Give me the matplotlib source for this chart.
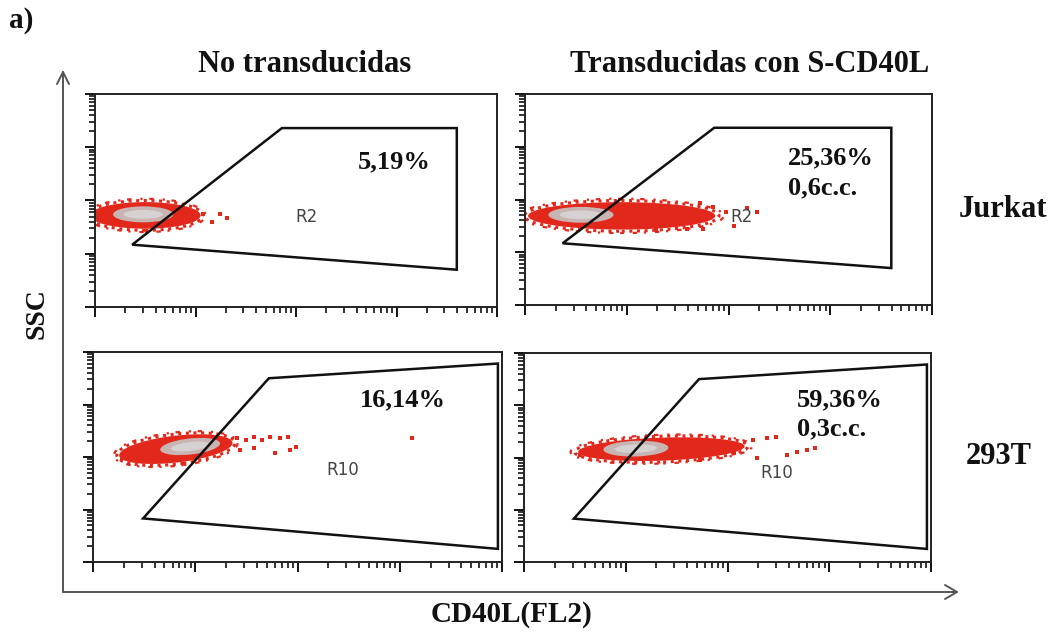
import numpy as np
import matplotlib
matplotlib.use("Agg")
import matplotlib.pyplot as plt
from matplotlib.patches import Ellipse, Polygon

# ---------------- data ----------------
cell_lines = ["Jurkat", "293T"]
conditions = ["No transducidas", "Transducidas con S-CD40L"]
pct_in_gate = [[5.19, 25.36], [16.14, 59.36]]          # % events in gate
volume_cc = [[None, 0.6], [None, 0.3]]                  # vector volume (c.c.)
gate_names = ["R2", "R10"]

# gate polygons per cell line (log10 units, FL2 / SSC)
gate_fl2 = [[0.37, 1.86, 3.60, 3.60], [0.49, 1.72, 3.96, 3.96]]
gate_ssc = [[1.17, 3.36, 3.36, 0.70], [0.83, 3.50, 3.78, 0.25]]

# main population: centre / half-widths (log10 units) and tilt (deg)
pop_fl2 = [[0.50, 0.95], [0.81, 1.35]]
pop_ssc = [[1.72, 1.69], [2.15, 2.16]]
pop_hw = [[0.55, 0.92], [0.57, 0.82]]
pop_hh = [[0.25, 0.26], [0.25, 0.22]]
pop_tilt = [[0.0, 0.0], [15.0, 4.0]]
# dense core of the population
core_fl2 = [[0.48, 0.55], [0.95, 1.10]]
core_ssc = [[1.74, 1.71], [2.20, 2.17]]
core_hw = [[0.30, 0.32], [0.30, 0.32]]
core_hh = [[0.15, 0.15], [0.15, 0.15]]

# sparse events outside the main population
sparse_fl2 = [
    [[1.07, 1.16, 1.24, 1.31],
     [1.72, 1.85, 1.98, 2.05, 2.18, 2.28, 1.59, 1.29, 1.75]],
    [[1.41, 1.50, 1.57, 1.65, 1.73, 1.83, 1.91, 1.99, 1.93, 1.78, 1.57, 1.44,
      0.28, 0.36, 0.46, 3.12],
     [2.25, 2.39, 2.48, 2.58, 2.68, 2.78, 2.86, 0.55, 0.62, 2.29, 1.73, 2.06]],
]
sparse_ssc = [
    [[1.74, 1.60, 1.74, 1.68],
     [1.93, 1.86, 1.77, 1.49, 1.83, 1.77, 1.45, 1.45, 1.45]],
    [[2.36, 2.32, 2.39, 2.32, 2.38, 2.36, 2.39, 2.20, 2.13, 2.07, 2.17, 2.13,
      1.98, 2.04, 2.13, 2.36],
     [2.34, 2.37, 2.40, 2.05, 2.11, 2.14, 2.18, 2.05, 2.14, 1.99, 1.95, 2.08]],
]

# ---------------- layout ----------------
W, H = 1056, 637
fig = plt.figure(figsize=(W / 100, H / 100), dpi=100)

def fx(x):
    return x / W

def fy(y):
    return 1 - y / H

# panel boxes in pixels: (left, top, right, bottom)
boxes = [[(95, 94, 497, 307), (525, 94, 932, 305)],
         [(93, 352, 502, 562), (524, 353, 931, 562)]]
# stat label anchor (axes fraction)
stat_pos = [[(0.654, 0.68), (0.646, 0.697)], [(0.653, 0.771), (0.671, 0.775)]]
gate_label_pos = [[(0.527, 0.423), (0.533, 0.417)], [(0.611, 0.438), (0.622, 0.426)]]

SERIF = ["Liberation Serif", "DejaVu Serif"]
RED = "#e2281b"
decades = np.arange(0, 5)
minor = np.log10(np.array([k * 10.0 ** d for d in range(4) for k in range(2, 10)]))

# background axes for the big axis arrows
bg = fig.add_axes([0, 0, 1, 1])
bg.set_xlim(0, W)
bg.set_ylim(H, 0)
bg.axis("off")
arrow_kw = dict(color="#555555", lw=1.4, solid_capstyle="round")
bg.plot([63, 63], [592, 72], **arrow_kw)
bg.plot([57, 63, 69], [84, 72, 84], **arrow_kw)
bg.plot([63, 957], [592, 592], **arrow_kw)
bg.plot([945, 957, 945], [585, 592, 599], **arrow_kw)

for r in range(2):
    for c in range(2):
        l, t, rr, b = boxes[r][c]
        ax = fig.add_axes([fx(l), fy(b), fx(rr - l), (b - t) / H])
        ax.set_xlim(0, 4)
        ax.set_ylim(0, 4)
        ax.set_xticks(decades)
        ax.set_yticks(decades)
        ax.set_xticks(minor, minor=True)
        ax.set_yticks(minor, minor=True)
        ax.set_xticklabels([])
        ax.set_yticklabels([])
        ax.tick_params(which="major", direction="out", length=7, width=1.4,
                       color="#111111")
        ax.tick_params(which="minor", direction="out", length=4, width=1.2,
                       color="#111111")
        for s in ax.spines.values():
            s.set_linewidth(1.4)
            s.set_color("#222222")

        # population cloud
        centre = (pop_fl2[r][c], pop_ssc[r][c])
        body = Ellipse(centre, 2 * pop_hw[r][c], 2 * pop_hh[r][c],
                       angle=pop_tilt[r][c], facecolor=RED, edgecolor="none",
                       zorder=2)
        ax.add_patch(body)
        rim = Ellipse(centre, 2 * pop_hw[r][c] * 1.04, 2 * pop_hh[r][c] * 1.12,
                      angle=pop_tilt[r][c], facecolor="none", edgecolor=RED,
                      lw=2.2, linestyle=(0, (1, 1.5)), zorder=2)
        ax.add_patch(rim)
        rim2 = Ellipse(centre, 2 * pop_hw[r][c] * 1.09, 2 * pop_hh[r][c] * 1.25,
                       angle=pop_tilt[r][c], facecolor="none", edgecolor=RED,
                       lw=1.6, linestyle=(0, (1, 4, 2, 3)), zorder=2)
        ax.add_patch(rim2)
        core_c = (core_fl2[r][c], core_ssc[r][c])
        core = Ellipse(core_c, 2 * core_hw[r][c], 2 * core_hh[r][c],
                       angle=pop_tilt[r][c], facecolor="#c8b4b2",
                       edgecolor="none", zorder=3)
        ax.add_patch(core)
        inner = Ellipse(core_c, 1.3 * core_hw[r][c], 1.1 * core_hh[r][c],
                        angle=pop_tilt[r][c], facecolor="#d6d2d2",
                        edgecolor="none", zorder=3)
        ax.add_patch(inner)
        ax.scatter(sparse_fl2[r][c], sparse_ssc[r][c], s=5, marker="s",
                   color=RED, linewidths=0, zorder=2)

        # gate
        gate = Polygon(np.column_stack([gate_fl2[r], gate_ssc[r]]), closed=True,
                       facecolor="none", edgecolor="#111111", lw=1.8,
                       joinstyle="miter", zorder=4)
        ax.add_patch(gate)
        gx, gy = gate_label_pos[r][c]
        ax.text(gx, gy, gate_names[r], transform=ax.transAxes, ha="center",
                va="center", fontsize=12, color="#444444",
                family=["DejaVu Sans"], zorder=5)

        # statistics
        sx, sy = stat_pos[r][c]
        ax.text(sx, sy, f"{pct_in_gate[r][c]:.2f}%".replace(".", ","),
                transform=ax.transAxes, ha="left", va="center", fontsize=19,
                fontweight="bold", family=SERIF, color="#111111", zorder=5)
        if volume_cc[r][c] is not None:
            ax.text(sx, sy - 0.14, f"{volume_cc[r][c]:.1f}c.c.".replace(".", ",", 1),
                    transform=ax.transAxes, ha="left", va="center", fontsize=19,
                    fontweight="bold", family=SERIF, color="#111111", zorder=5)

# column titles, row labels, axis names
title_x = [305, 750]
for c, name in enumerate(conditions):
    fig.text(fx(title_x[c]), fy(65), name, ha="center", va="center",
             fontsize=22, fontweight="bold", family=SERIF, color="#111111")
row_x = [1003, 999]
row_y = [210, 456]
for r, name in enumerate(cell_lines):
    fig.text(fx(row_x[r]), fy(row_y[r]), name, ha="center", va="center",
             fontsize=22, fontweight="bold", family=SERIF, color="#111111")
fig.text(fx(37), fy(314), "SSC", rotation=90, ha="center", va="center",
         fontsize=20, fontweight="bold", family=SERIF, color="#111111")
fig.text(fx(511), fy(615), "CD40L(FL2)", ha="center", va="center",
         fontsize=21, fontweight="bold", family=SERIF, color="#111111")
fig.text(fx(9), fy(21), "a)", ha="left", va="center",
         fontsize=21, fontweight="bold", family=SERIF, color="#111111")

fig.savefig("out.png", dpi=100, facecolor="white")
